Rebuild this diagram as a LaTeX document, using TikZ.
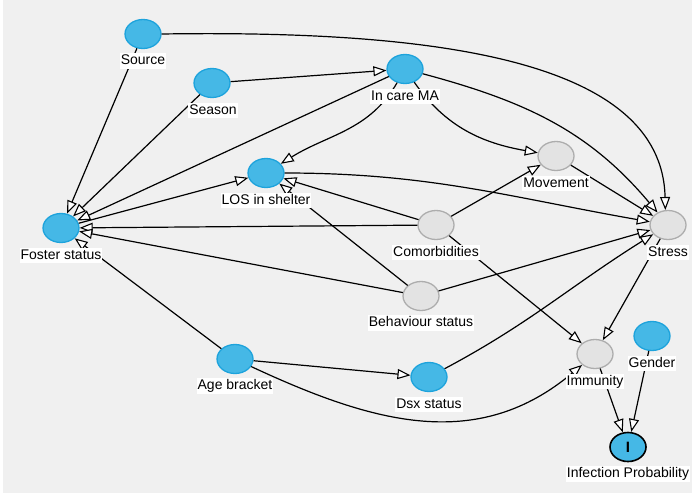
\documentclass[tikz,border=0pt]{standalone}
\usepackage{fontspec}
\setmainfont{Liberation Sans}
\usetikzlibrary{shapes.geometric,arrows.meta}
\definecolor{bgc}{HTML}{F0F0F0}
\definecolor{fblue}{HTML}{45B8E6}
\definecolor{dblue}{HTML}{1DA3DC}
\definecolor{gfill}{HTML}{E3E3E3}
\definecolor{gdraw}{HTML}{ADADAD}
\tikzset{
  bnode/.style={ellipse, draw=dblue, fill=fblue, line width=1.3pt, minimum width=36pt, minimum height=29pt, inner sep=0pt},
  gnode/.style={ellipse, draw=gdraw, fill=gfill, line width=1.3pt, minimum width=36pt, minimum height=29pt, inner sep=0pt},
  lab/.style={fill=white, inner xsep=1pt, inner ysep=1pt, text height=10.5pt, text depth=3pt, font=\fontsize{14}{16}\selectfont, text=black},
  conn/.style={draw=black, line width=1.2pt, -{Triangle[length=13pt,width=10pt,fill=white,line width=1.1pt]}}
}
\begin{document}
\begin{tikzpicture}[x=1pt,y=-1pt]
\useasboundingbox (0,0) rectangle (692,493);
\fill[white] (0,0) rectangle (692,493);
\fill[bgc] (3,0) rectangle (692,493);

% nodes
\node[bnode] (source) at (143,34) {};
\node[bnode] (season) at (212,83) {};
\node[bnode] (incare) at (405,69) {};
\node[bnode] (los) at (266,173) {};
\node[bnode] (foster) at (61,228) {};
\node[gnode] (movement) at (556,156) {};
\node[gnode] (comorb) at (436,225) {};
\node[gnode] (stress) at (668,225) {};
\node[gnode] (behav) at (421,296) {};
\node[bnode] (age) at (235,359) {};
\node[bnode] (dsx) at (429,377) {};
\node[gnode] (immun) at (595,354) {};
\node[bnode] (gender) at (652,336) {};
\node[bnode, draw=black, line width=1.6pt, font=\fontsize{15}{16}\selectfont\bfseries] (infect) at (628,447) {I};

% connectors
\draw[conn] (source) -- (foster);
\draw[conn] (source.east) .. controls (430,30) and (662,58) .. (stress.100);
\draw[conn] (season) -- (incare);
\draw[conn] (season) -- (foster);
\draw[conn] (incare) -- (foster);
\draw[conn] (incare) to[out=-120,in=32] (los);
\draw[conn] (incare) to[out=-55,in=170] (movement);
\draw[conn] (incare) to[out=-15,in=130] (stress);
\draw[conn] (foster) -- (los);
\draw[conn] (los) to[out=0,in=170] (stress);
\draw[conn] (comorb) -- (foster);
\draw[conn] (comorb) -- (los);
\draw[conn] (comorb) -- (movement);
\draw[conn] (comorb) -- (immun);
\draw[conn] (behav) -- (los);
\draw[conn] (behav) -- (foster);
\draw[conn] (behav) -- (stress);
\draw[conn] (movement) -- (stress);
\draw[conn] (stress) -- (immun);
\draw[conn] (age) -- (foster);
\draw[conn] (age) -- (dsx);
\draw[conn] (age) to[out=-25,in=-140,looseness=1.05] (immun);
\draw[conn] (dsx) to[out=28,in=-148] (stress);
\draw[conn] (immun) -- (infect);
\draw[conn] (gender) -- (infect);

% labels
\node[lab] (lsource) at (143,61) {Source};
\node[lab] (lseason) at (213,110.5) {Season};
\node[lab] (lincare) at (405,96.5) {In care MA};
\node[lab] (llos) at (266,200.5) {LOS in shelter};
\node[lab] (lfoster) at (61,255.5) {Foster status};
\node[lab] (lmovement) at (556,183.5) {Movement};
\node[lab] (lcomorb) at (436,252.5) {Comorbidities};
\node[lab] (lstress) at (668,252.5) {Stress};
\node[lab] (lbehav) at (421,323) {Behaviour status};
\node[lab] (lage) at (235,386) {Age bracket};
\node[lab] (ldsx) at (429,404.5) {Dsx status};
\node[lab] (limmun) at (595,381.5) {Immunity};
\node[lab] (lgender) at (652,363.5) {Gender};
\node[lab] (linfect) at (628,474) {Infection Probability};
\end{tikzpicture}
\end{document}
